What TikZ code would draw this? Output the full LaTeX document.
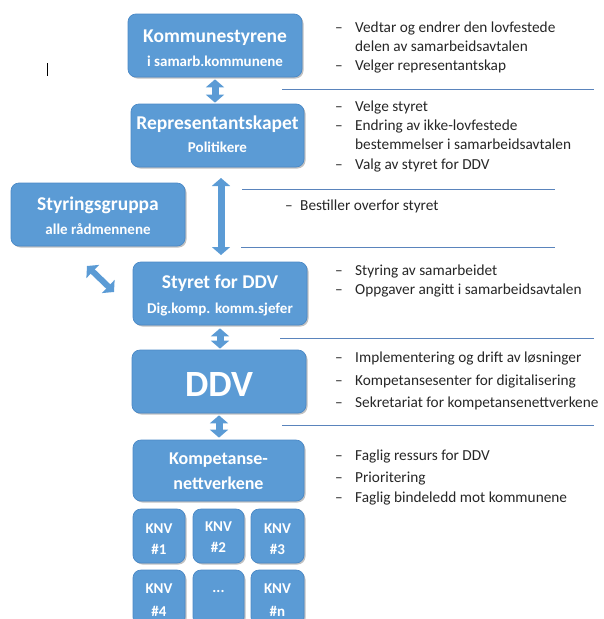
\documentclass[tikz,border=0pt]{standalone}
\usepackage{fontspec}
\setmainfont{Carlito}
\usetikzlibrary{arrows.meta,shadows}
\definecolor{boxfill}{HTML}{5B9BD5}
\definecolor{boxline}{HTML}{4A88C6}
\definecolor{sepcol}{HTML}{5A84BC}
\definecolor{txtcol}{HTML}{262626}
\begin{document}
\begin{tikzpicture}[x=1pt,y=-1pt,
  box/.style={draw=boxline, line width=0.7pt, fill=boxfill, rounded corners=8pt, inner sep=0pt,
    drop shadow={shadow xshift=1.5pt, shadow yshift=-1.5pt, opacity=0.35, fill=black!70}},
  ttl/.style={anchor=base, text=white, inner sep=0pt, font=\fontsize{19.5}{22}\selectfont\bfseries},
  sub/.style={anchor=base, text=white, inner sep=0pt, font=\fontsize{15}{18}\selectfont\bfseries},
  itm/.style={anchor=mid west, inner sep=0pt, text=txtcol, font=\fontsize{15.3}{18}\selectfont},
  sepline/.style={draw=sepcol, line width=0.9pt},
  blockarrow/.style={draw=boxfill, line width=7pt,
    {Triangle[width=18pt,length=8pt]}-{Triangle[width=18pt,length=8pt]}}
]
\useasboundingbox (0,0) rectangle (603,619);

% boxes
\node[box, minimum width=174pt, minimum height=63pt] (kom) at (215,45.5) {};
\node[box, minimum width=173pt, minimum height=63pt] (rep) at (217.5,135.5) {};
\node[box, minimum width=174pt, minimum height=63pt] (stg) at (98,214.5) {};
\node[box, minimum width=174pt, minimum height=63pt] (sty) at (220,293.5) {};
\node[box, minimum width=174pt, minimum height=63pt] (ddv) at (219,381.5) {};
\node[box, minimum width=171pt, minimum height=61pt] (kmp) at (218.5,470.5) {};
\node[box, minimum width=52pt, minimum height=54pt] (knv1) at (159,536) {};
\node[box, minimum width=51pt, minimum height=54pt] (knv2) at (218.5,536) {};
\node[box, minimum width=53pt, minimum height=54pt] (knv3) at (277.5,536) {};
\node[box, minimum width=52pt, minimum height=55pt] (knv4) at (159,597.5) {};
\node[box, minimum width=51pt, minimum height=55pt] (knv5) at (218.5,597.5) {};
\node[box, minimum width=53pt, minimum height=55pt] (knv6) at (277.5,597.5) {};

% box texts
\node[ttl] (komt) at (215,42) {Kommunestyrene};
\node[sub] (koms) at (215,66) {i samarb.kommunene};
\node[ttl] (rept) at (217.5,129.5) {Representantskapet};
\node[sub] (reps) at (217.5,152.5) {Politikere};
\node[ttl] (stgt) at (98,210) {Styringsgruppa};
\node[sub] (stgs) at (98,234.5) {alle rådmennene};
\node[ttl] (styt) at (220,288.5) {Styret for DDV};
\node[sub] (stys) at (220,313.5) {Dig.komp. komm.sjefer};
\node[anchor=base, text=white, inner sep=0pt, font=\fontsize{37}{40}\selectfont\bfseries] (ddvt) at (219,396) {DDV};
\node[ttl, font=\fontsize{18}{20}\selectfont\bfseries] (kmpt) at (218.5,464) {Kompetanse-};
\node[ttl, font=\fontsize{18}{20}\selectfont\bfseries] (kmps) at (218.5,489) {nettverkene};
\node[sub] (k1a) at (159,533) {KNV};
\node[sub] (k1b) at (159,554.5) {\#1};
\node[sub] (k2a) at (218.5,531) {KNV};
\node[sub] (k2b) at (218.5,552.5) {\#2};
\node[sub] (k3a) at (277.5,533) {KNV};
\node[sub] (k3b) at (277.5,554.5) {\#3};
\node[sub] (k4a) at (159,593.5) {KNV};
\node[sub] (k4b) at (159,616) {\#4};
\node[sub] (k5a) at (218.5,592) {...};
\node[sub] (k6a) at (277.5,593.5) {KNV};
\node[sub] (k6b) at (277.5,616) {\#n};

% arrows
\draw[blockarrow] ([yshift=-2pt]kom.south) -- ([yshift=1pt]kom.south |- rep.north);
\coordinate (la1) at (221,178);
\coordinate (la2) at (221,255);
\draw[blockarrow] (la1) -- (la2);
\coordinate (da1) at (87,266);
\coordinate (da2) at (114,292);
\draw[blockarrow, line width=6pt] (da1) -- (da2);
\draw[blockarrow] ([yshift=-3pt]sty.south) -- ([yshift=1pt]sty.south |- ddv.north);
\draw[blockarrow] ([yshift=-2pt]ddv.south) -- ([yshift=2pt]ddv.south |- kmp.north);

% separator lines
\draw[sepline] (282,89) -- (594,89);
\draw[sepline] (242,189) -- (555,189);
\draw[sepline] (241,247.5) -- (555,247.5);
\draw[sepline] (280,338) -- (594,338);
\draw[sepline] (282,425) -- (594,425);

% cursor mark
\draw[black, line width=0.8pt] (47,63) -- (47,76);

% right-hand texts
\node[itm] (r1) at (335,30) {\makebox[20pt][l]{–}Vedtar og endrer den lovfestede};
\node[itm] (r2) at (335,49) {\hspace{20pt}delen av samarbeidsavtalen};
\node[itm] (r3) at (335,68) {\makebox[20pt][l]{–}Velger representantskap};
\node[itm] (r4) at (335,109) {\makebox[20pt][l]{–}Velge styret};
\node[itm] (r5) at (335,128) {\makebox[20pt][l]{–}Endring av ikke-lovfestede};
\node[itm] (r6) at (335,147) {\hspace{20pt}bestemmelser i samarbeidsavtalen};
\node[itm] (r7) at (335,167) {\makebox[20pt][l]{–}Valg av styret for DDV};
\node[itm] (r8) at (285,208) {\makebox[15pt][l]{–}Bestiller overfor styret};
\node[itm] (r9) at (335,273) {\makebox[20pt][l]{–}Styring av samarbeidet};
\node[itm] (r10) at (335,292) {\makebox[20pt][l]{–}Oppgaver angitt i samarbeidsavtalen};
\node[itm] (r11) at (335,360) {\makebox[20pt][l]{–}Implementering og drift av løsninger};
\node[itm] (r12) at (335,383) {\makebox[20pt][l]{–}Kompetansesenter for digitalisering};
\node[itm] (r13) at (335,405) {\makebox[20pt][l]{–}Sekretariat for kompetansenettverkene};
\node[itm] (r14) at (335,458) {\makebox[20pt][l]{–}Faglig ressurs for DDV};
\node[itm] (r15) at (335,480) {\makebox[20pt][l]{–}Prioritering};
\node[itm] (r16) at (335,500) {\makebox[20pt][l]{–}Faglig bindeledd mot kommunene};
\end{tikzpicture}
\end{document}
